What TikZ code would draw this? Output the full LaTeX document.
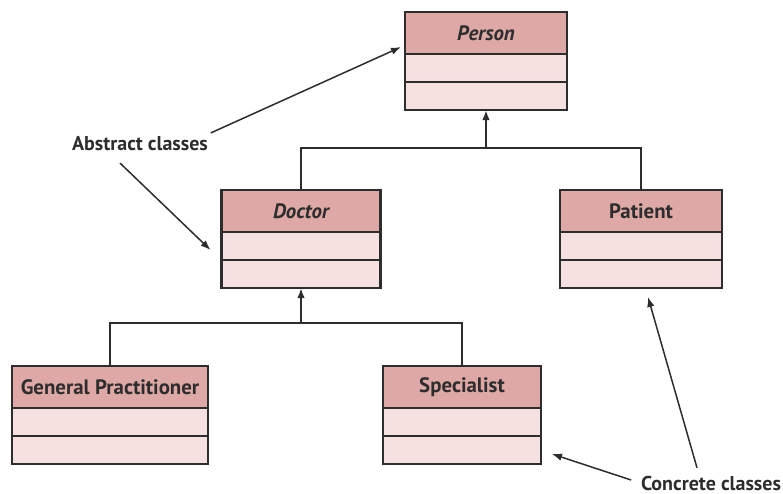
\documentclass[tikz,border=0pt]{standalone}
\usepackage{fontspec}
\setmainfont{PT Sans}
\usetikzlibrary{positioning}
\usetikzlibrary{calc}
\usetikzlibrary{arrows.meta}
\definecolor{headfill}{RGB}{221,168,166}
\definecolor{rowfill}{RGB}{245,225,223}
\definecolor{ink}{RGB}{45,45,45}
\tikzset{
	-{Latex[length=6pt,width=4.5pt]},
	every node/.style={font=\bfseries\fontsize{12.5}{14}\selectfont, text=ink},
	head/.style={draw=ink, line width=1.3pt, fill=headfill, minimum height=25.2pt, inner sep=0pt, outer sep=0pt},
	row/.style={draw=ink, line width=1.3pt, fill=rowfill, minimum height=16.8pt, inner sep=0pt, outer sep=0pt},
	link/.style={-, draw=ink, line width=1.3pt},
	note/.style={draw=ink, line width=0.9pt},
	tag/.style={font=\bfseries\fontsize{12}{14}\selectfont}
}

\begin{document}
\begin{tikzpicture}[x=0.6pt, y=-0.6pt]
					\useasboundingbox (0,0) rectangle (783,493);
					% abstract
					\node (person) [head, minimum width=162*0.6pt] at (486,33) {\itshape Person};
					\node (person-a) [row, minimum width=162*0.6pt, below=0pt of person] {};
					\node (person-b) [row, minimum width=162*0.6pt, below=0pt of person-a] {};
					\node (doctor) [head, minimum width=159*0.6pt] at (301,211) {\itshape Doctor};
					\node (doctor-a) [row, minimum width=159*0.6pt, below=0pt of doctor] {};
					\node (doctor-b) [row, minimum width=159*0.6pt, below=0pt of doctor-a] {};
					% concrete
					\node (patient) [head, minimum width=162*0.6pt] at (641,211) {Patient};
					\node (patient-a) [row, minimum width=162*0.6pt, below=0pt of patient] {};
					\node (patient-b) [row, minimum width=162*0.6pt, below=0pt of patient-a] {};
					\node (gp) [head, minimum width=196*0.6pt] at (110,387) {General Practitioner};
					\node (gp-a) [row, minimum width=196*0.6pt, below=0pt of gp] {};
					\node (gp-b) [row, minimum width=196*0.6pt, below=0pt of gp-a] {};
					\node (spec) [head, minimum width=158*0.6pt] at (462,387) {Specialist};
					\node (spec-a) [row, minimum width=158*0.6pt, below=0pt of spec] {};
					\node (spec-b) [row, minimum width=158*0.6pt, below=0pt of spec-a] {};
					
					\path (person-b.south) ++(0,38) coordinate (j1);
					\path (doctor-b.south) ++(0,35) coordinate (j2);
					\draw[link] (doctor.north) |- (j1) -| (patient.north);
					\draw[link, -{Latex[length=6pt,width=4.5pt]}] (j1) -- (person-b.south);
					\draw[link] (gp.north) |- (j2) -| (spec.north);
					\draw[link, -{Latex[length=6pt,width=4.5pt]}] (j2) -- (doctor-b.south);
					
					% labels
					\node (abs) [tag] at (140,144) {Abstract classes};
					\node (conc) [tag] at (711,483) {Concrete classes};
					\draw[note] ($(abs.north east)+(-3,2)$) -- ($(person.west)+(-4,14)$);
					\draw[note] ($(abs.south)+(-20,6)$) -- ($(doctor-a.west)+(-11,4)$);
					\draw[note] ($(conc.west)+(-4,-3)$) -- ($(spec-b.east)+(11,4)$);
					\draw[note] ($(conc.north)+(-14,-2)$) -- ($(patient-b.south)+(7,9)$);
%					\node (obj) [below = of spec] {};
				\end{tikzpicture}
\end{document}
